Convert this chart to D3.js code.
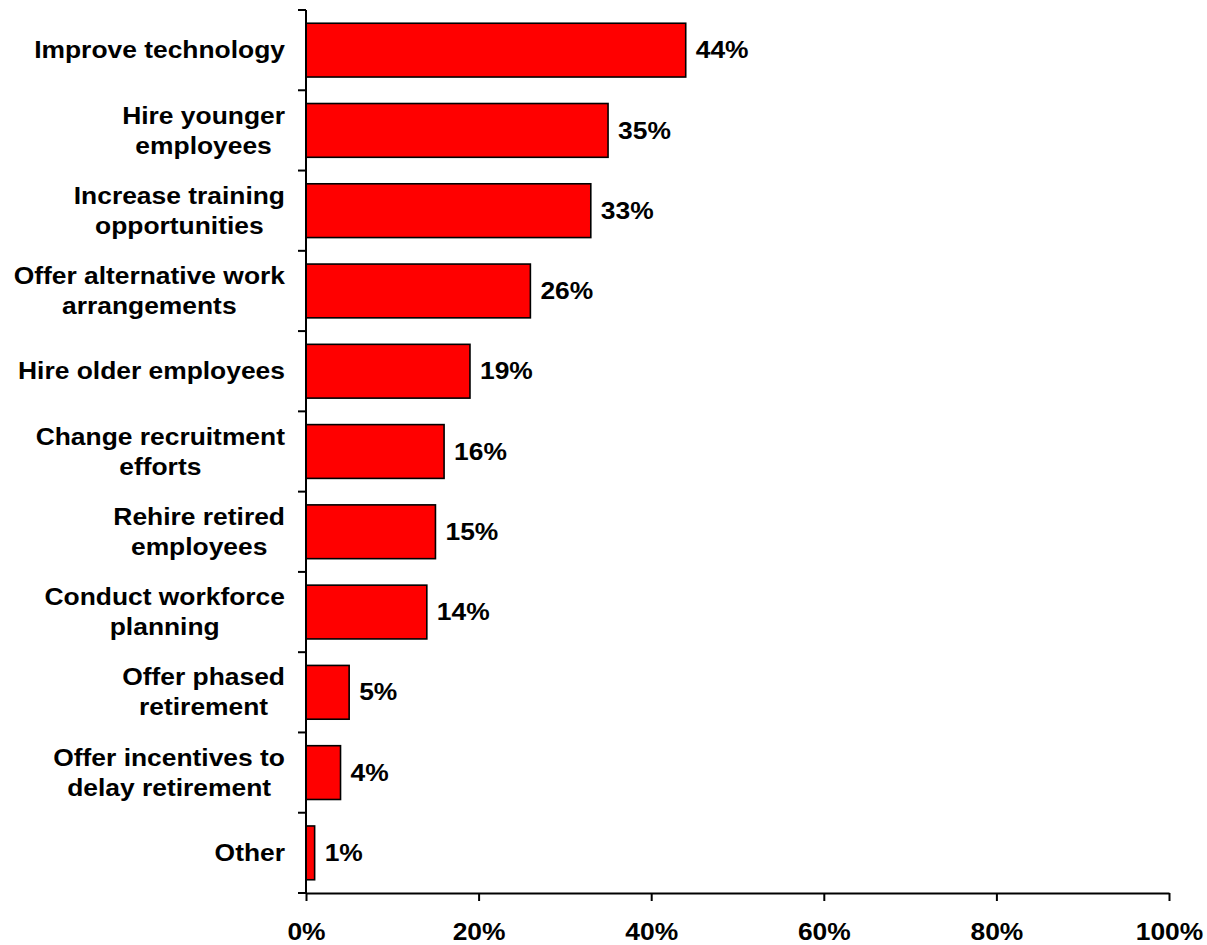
<!DOCTYPE html>
<html>
<head>
<meta charset="utf-8">
<script src="https://cdn.jsdelivr.net/npm/d3@7"></script>
<style>
  html, body { margin: 0; padding: 0; background: #fff; }
  svg { display: block; font-family: "Liberation Sans", Arial, sans-serif; font-weight: bold; }
</style>
</head>
<body>
<svg id="chart" width="1207" height="945"></svg>
<script>
// Survey responses: actions taken, share of respondents
const categories = [
  ["Improve technology"],
  ["Hire younger", "employees"],
  ["Increase training", "opportunities"],
  ["Offer alternative work", "arrangements"],
  ["Hire older employees"],
  ["Change recruitment", "efforts"],
  ["Rehire retired", "employees"],
  ["Conduct workforce", "planning"],
  ["Offer phased", "retirement"],
  ["Offer incentives to", "delay retirement"],
  ["Other"]
];
const values = [44, 35, 33, 26, 19, 16, 15, 14, 5, 4, 1];
const xTicks = [0, 20, 40, 60, 80, 100];

const svg = d3.select("#chart");
const plotL = 306, plotR = 1169, plotT = 10, plotB = 893;
const fontSize = 24;
const stretch = 1.1;          // wide lettering
const keys = categories.map((c, i) => i);

const x = d3.scaleLinear().domain([0, 100]).range([plotL, plotR]);
const y = d3.scaleBand().domain(keys).range([plotT, plotB]).paddingInner(0.33).paddingOuter(0.165);
const yEdges = d3.scaleLinear().domain([0, categories.length]).range([plotT, plotB]);

// Bars
svg.append("g").selectAll("rect").data(values).join("rect")
  .attr("x", x(0))
  .attr("y", (d, i) => y(i))
  .attr("width", d => x(d) - x(0))
  .attr("height", y.bandwidth())
  .attr("fill", "#ff0000")
  .attr("stroke", "#000")
  .attr("stroke-width", 1.6);

// Value labels
svg.append("g").selectAll("text").data(values).join("text")
  .attr("transform", (d, i) => `translate(${x(d) + 10},${y(i) + y.bandwidth() / 2}) scale(${stretch},1)`)
  .attr("dy", "0.34em")
  .attr("font-size", fontSize)
  .attr("fill", "#000")
  .text(d => d + "%");

// Y axis line and category boundary ticks
const yAxis = svg.append("g").attr("stroke", "#000").attr("stroke-width", 2);
yAxis.append("line").attr("x1", plotL).attr("x2", plotL).attr("y1", plotT).attr("y2", plotB);
yAxis.selectAll("line.tick").data(d3.range(categories.length + 1)).join("line")
  .attr("class", "tick")
  .attr("x1", plotL - 8).attr("x2", plotL)
  .attr("y1", d => yEdges(d)).attr("y2", d => yEdges(d));

// X axis
const xAxis = d3.axisBottom(x).tickValues(xTicks).tickFormat(d => d + "%").tickSize(8).tickSizeOuter(0);
const gx = svg.append("g").attr("transform", `translate(0,${plotB})`).call(xAxis);
gx.select(".domain").attr("stroke", "#000").attr("stroke-width", 2);
gx.selectAll(".tick line").attr("stroke", "#000").attr("stroke-width", 2);
gx.selectAll(".tick text")
  .attr("font-family", "Liberation Sans, Arial, sans-serif")
  .attr("font-weight", "bold")
  .attr("font-size", fontSize)
  .attr("fill", "#000")
  .attr("y", 0)
  .attr("dy", 0)
  .attr("transform", `translate(0,47) scale(${stretch},1)`);

// Category labels: block right-aligned, lines centred within the block
const lineH = 30;
const labelRight = 285;
const lg = svg.append("g");
categories.forEach((lines, i) => {
  const g = lg.append("g");
  const cy = y(i) + y.bandwidth() / 2;
  const texts = lines.map((t, k) => g.append("text")
    .attr("font-size", fontSize)
    .attr("fill", "#000")
    .attr("text-anchor", "middle")
    .attr("dy", "0.34em")
    .text(t));
  const w = d3.max(texts, t => t.node().getComputedTextLength()) * stretch;
  texts.forEach((t, k) => t.attr("transform",
    `translate(${labelRight - w / 2},${cy + (k - (lines.length - 1) / 2) * lineH}) scale(${stretch},1)`));
});
</script>
</body>
</html>
